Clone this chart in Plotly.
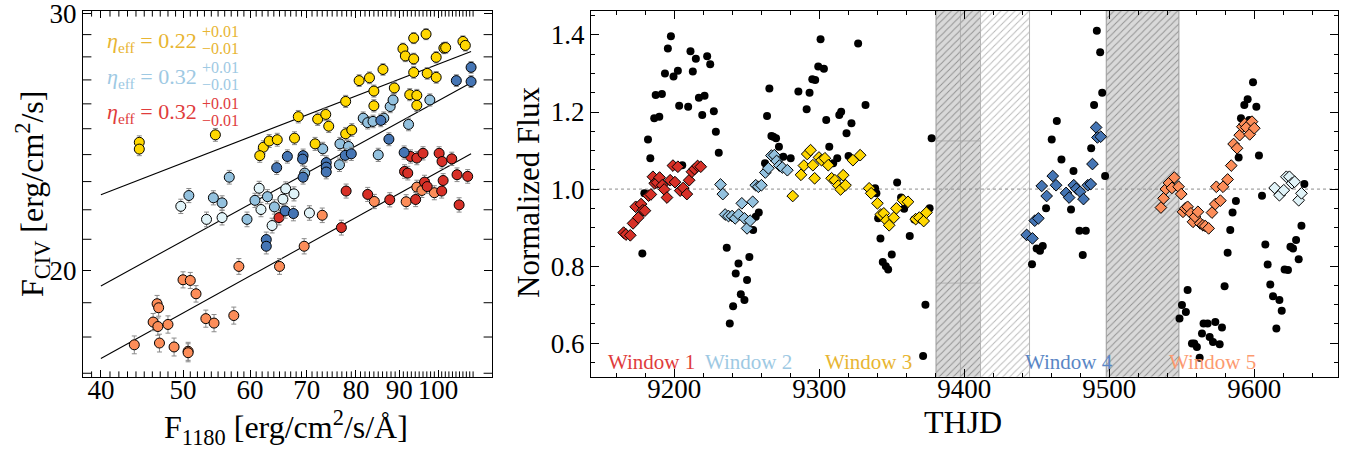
import plotly.graph_objects as go
import math

# ---------------- Left panel data ----------------
gold_x = [44.4, 44.4, 54.6, 68.4, 62.2, 63.2, 64.6, 61.6, 67.7, 71.6, 72.1, 73.7, 74.3, 77.8, 77.8, 79.1, 80.7, 83.0, 84.0, 84.0,
          86.1, 88.8, 90.9, 91.5, 93.6, 93.6, 93.6, 92.6, 94.4, 94.4, 96.8, 97.1, 99.5, 99.5, 101.6, 102.1, 107.0, 107.7]
gold_y = [24.47, 24.21, 24.76, 25.48, 24.28, 24.52, 24.57, 23.96, 24.63, 24.41, 25.38, 25.57, 25.10, 26.10, 24.80, 24.95, 26.97, 27.09, 26.53, 25.92,
          27.45, 26.66, 28.36, 28.04, 28.84, 27.91, 27.32, 26.38, 26.35, 25.94, 29.02, 27.28, 27.98, 27.11, 28.39, 28.41, 28.69, 28.51]

darkblue_x = [66.4, 64.5, 69.3, 69.2, 69.3, 66.0, 67.5, 62.7, 62.7, 73.8, 73.8, 73.8, 77.7, 79.0, 85.6, 87.5, 91.2, 105.1, 109.4, 109.4]
darkblue_y = [23.93, 23.51, 23.96, 23.83, 23.16, 21.96, 21.87, 20.99, 20.77, 23.70, 23.53, 23.35, 23.97, 24.03, 25.33, 24.59, 24.08, 26.97, 27.54, 26.93]

lightblue_x = [50.8, 54.3, 55.6, 56.7, 59.5, 60.8, 62.9, 64.1, 69.6, 73.1, 76.6, 76.5, 78.4, 81.6, 82.6, 83.8, 86.3, 87.8, 88.5, 92.3, 97.8, 85.0]
lightblue_y = [22.50, 22.42, 22.24, 23.16, 21.67, 22.33, 22.46, 22.10, 23.31, 24.22, 24.41, 23.62, 24.31, 25.42, 25.24, 25.29, 25.42, 25.89, 26.16, 25.17, 26.16, 23.99]

verylight_x = [49.7, 53.3, 55.6, 61.5, 61.8, 63.7, 66.1, 65.6, 67.6, 70.5]
verylight_y = [22.12, 21.67, 21.73, 22.76, 22.01, 21.46, 22.74, 22.37, 22.56, 21.89]

red_x = [64.9, 76.9, 77.9, 82.6, 87.7, 91.3, 92.1, 92.8, 94.4, 96.0, 100.3, 101.1, 103.8, 96.4, 97.1, 101.4, 101.0, 94.1, 105.3, 108.4, 105.9]
red_y = [21.73, 21.39, 22.66, 22.54, 22.35, 23.37, 23.31, 23.93, 23.87, 24.05, 24.05, 23.74, 23.84, 22.98, 22.82, 23.04, 22.66, 22.36, 23.25, 23.19, 22.17]

orange_x = [43.8, 46.9, 48.8, 50.7, 50.7, 46.1, 46.7, 48.0, 46.6, 46.8, 50.0, 51.0, 51.8, 53.2, 54.4, 57.4, 58.2, 65.0, 69.5, 73.0, 84.1, 91.7, 94.4, 95.7, 99.0]
orange_y = [17.78, 17.83, 17.72, 17.60, 17.56, 18.43, 18.30, 18.36, 18.97, 18.85, 19.70, 19.68, 19.27, 18.53, 18.40, 18.62, 20.12, 20.12, 20.77, 21.81, 22.29, 22.28, 22.80, 22.68, 22.60]

civ_err = 0.25

fit_x = [40, 109.4]
fit_top_y = [22.53, 28.24]
fit_mid_y = [19.51, 26.88]
fit_bot_y = [17.40, 24.03]

eta_labels = ["0.22", "0.32", "0.32"]

x1_major = [40, 50, 60, 70, 80, 90, 100]
x1_minor = [v for v in range(39, 111) if v not in x1_major]
y1_major = [20, 30]
y1_minor = [17, 18, 19, 21, 22, 23, 24, 25, 26, 27, 28, 29]

# ---------------- Right panel data ----------------
black_t = [9178.0, 9179.4, 9181.9, 9183.5, 9186.2, 9187.2, 9189.7, 9191.5, 9193.6, 9195.6, 9197.7, 9199.5, 9202.5, 9203.4, 9205.5,
           9209.6, 9211.2, 9212.8, 9214.9, 9217.0, 9219.3, 9220.9, 9222.7, 9224.8, 9227.3, 9228.7, 9230.7, 9236.2, 9238.3, 9240.6,
           9242.4, 9244.3, 9245.9, 9248.4, 9250.2, 9251.8, 9254.4, 9256.2, 9258.3, 9262.6, 9264.0, 9265.6, 9267.0, 9268.3, 9270.2,
           9272.2, 9275.2, 9280.3, 9285.6, 9291.3, 9293.3, 9295.2, 9297.2, 9299.3, 9300.9, 9303.2, 9304.8, 9306.9, 9309.6, 9312.4,
           9313.8, 9315.1, 9318.8, 9320.2, 9322.2, 9326.8, 9331.9, 9338.5, 9339.4, 9340.6, 9342.2, 9343.8, 9345.9, 9347.5, 9350.0,
           9353.7, 9356.4, 9358.5, 9362.4, 9365.6, 9369.7, 9371.6, 9373.2, 9376.1, 9377.5,
           9446.7, 9449.9, 9452.2, 9454.1, 9456.4, 9460.3, 9463.8, 9467.0, 9473.6, 9475.3, 9479.4, 9481.7, 9483.8, 9487.5, 9489.5,
           9491.4, 9493.7, 9495.1, 9497.1,
           9548.4, 9550.1, 9552.8, 9554.0, 9557.0, 9558.6, 9560.4, 9562.3, 9563.9, 9565.0, 9567.8, 9569.2, 9571.5, 9573.1, 9576.1,
           9577.7, 9579.5, 9581.6, 9583.4, 9585.0, 9587.3, 9589.2, 9590.8, 9593.1, 9595.4, 9596.5, 9599.1, 9601.4, 9603.2, 9605.3,
           9607.6, 9609.2, 9611.0, 9612.9, 9615.2, 9617.3, 9618.9, 9620.9, 9623.2, 9624.9, 9626.7, 9628.8, 9630.6, 9632.5, 9634.5]
black_f = [0.833, 0.989, 1.129, 1.080, 1.184, 1.244, 1.188, 1.247, 1.300, 1.365, 1.397, 1.292, 1.307, 1.216, 1.062,
           1.214, 1.358, 1.305, 1.338, 1.237, 1.192, 1.242, 1.345, 1.324, 1.202, 1.149, 1.094, 0.848, 0.651, 0.696,
           0.781, 0.807, 0.727, 0.712, 0.764, 0.824, 0.894, 0.928, 0.939, 1.067, 1.190, 1.261, 1.138, 1.136, 1.132,
           1.110, 1.084, 1.080, 1.253, 1.207, 1.250, 1.285, 1.283, 1.318, 1.389, 1.312, 1.179, 1.110, 1.067, 1.080,
           1.192, 1.201, 1.145, 1.086, 1.171, 1.378, 1.218, 1.002, 0.989, 0.924, 0.872, 0.811, 0.800, 0.791, 0.830,
           1.017, 0.978, 0.949, 0.878, 0.921, 0.928, 0.567, 0.700, 0.950, 1.132,
           0.805, 0.846, 0.840, 0.852, 0.950, 1.129, 1.177, 1.077, 0.947, 1.047, 0.892, 0.829, 0.892, 1.106, 1.218,
           1.411, 1.355, 1.250, 1.034,
           0.664, 0.699, 0.681, 0.738, 0.599, 0.599, 0.590, 0.562, 0.625, 0.651, 0.651, 0.616, 0.603, 0.655, 0.597,
           0.641, 0.748, 0.835, 0.894, 0.939, 0.969, 1.082, 1.184, 1.218, 1.233, 1.179, 1.277, 1.214, 1.087, 0.983,
           0.856, 0.804, 0.752, 0.722, 0.638, 0.712, 0.684, 0.791, 0.790, 0.850, 0.846, 0.868, 0.818, 0.905, 1.013]

w1_t = [9165.1, 9166.7, 9169.7, 9171.6, 9173.4, 9175.2, 9177.1, 9178.4, 9179.8, 9182.3, 9183.9, 9185.3, 9186.5, 9188.1, 9189.9,
        9191.7, 9193.1, 9195.0, 9197.2, 9199.1, 9200.5, 9202.5, 9204.1, 9206.2, 9208.7, 9210.3, 9212.2, 9214.0, 9216.1, 9218.3]
w1_f = [0.887, 0.882, 0.880, 0.911, 0.954, 0.926, 0.961, 0.945, 0.944, 0.983, 0.986, 1.032, 1.015, 1.017, 1.030,
        1.010, 0.999, 0.978, 1.023, 1.061, 1.018, 1.058, 0.996, 1.003, 0.987, 1.023, 1.045, 1.052, 1.060, 1.058]

w2_t = [9231.9, 9233.5, 9235.1, 9237.4, 9239.9, 9242.0, 9244.5, 9246.6, 9248.4, 9250.2, 9252.3, 9254.1, 9256.2, 9258.0, 9260.1,
        9262.8, 9264.9, 9267.0, 9269.0, 9270.6, 9272.5, 9274.5, 9278.0]
w2_f = [1.012, 0.987, 0.934, 0.930, 0.930, 0.924, 0.934, 0.963, 0.924, 0.898, 0.918, 0.967, 1.010, 1.006, 1.010,
        1.043, 1.054, 1.087, 1.088, 1.073, 1.061, 1.056, 1.049]

w3_t = [9281.7, 9287.4, 9289.4, 9291.7, 9294.0, 9295.6, 9296.8, 9299.8, 9301.6, 9303.9, 9306.2, 9308.5, 9310.8, 9313.1, 9314.7,
        9316.5, 9318.1, 9323.2, 9328.2, 9334.4, 9335.8, 9340.1, 9342.4, 9344.5, 9346.3, 9348.2, 9351.4, 9353.2, 9357.8, 9361.2,
        9366.5, 9369.0, 9372.0, 9373.9]
w3_f = [0.982, 1.037, 1.061, 1.091, 1.101, 1.062, 1.028, 1.082, 1.075, 1.080, 1.062, 1.028, 1.023, 1.009, 0.999,
        1.036, 1.010, 1.075, 1.088, 1.002, 0.989, 0.963, 0.934, 0.937, 0.919, 0.906, 0.926, 0.950, 0.971, 0.967,
        0.922, 0.926, 0.917, 0.939]

w4_t = [9443.0, 9447.0, 9448.6, 9451.1, 9453.4, 9456.8, 9461.0, 9463.3, 9470.2, 9472.3, 9475.5, 9477.3, 9479.9, 9482.2, 9485.2,
        9487.2, 9488.4, 9490.9, 9491.8, 9494.1]
w4_f = [0.881, 0.872, 0.918, 0.924, 1.008, 0.982, 1.034, 1.010, 0.990, 0.978, 1.010, 1.001, 0.993, 0.974, 1.010,
        1.013, 1.065, 1.160, 1.134, 1.136]

w5_t = [9535.6, 9537.4, 9539.0, 9541.1, 9543.2, 9544.8, 9547.8, 9549.6, 9550.8, 9552.4, 9554.0, 9556.3, 9557.7, 9559.1, 9561.1,
        9562.7, 9564.6, 9566.2, 9568.5, 9570.8, 9573.1, 9573.8, 9576.6, 9578.4, 9581.6, 9584.1, 9585.7, 9588.1, 9589.9, 9591.7,
        9593.3, 9594.5, 9596.8, 9598.4, 9600.0]
w5_f = [0.952, 0.976, 1.000, 1.016, 1.003, 1.030, 1.006, 0.987, 0.941, 0.950, 0.954, 0.937, 0.915, 0.928, 0.941,
        0.911, 0.906, 0.904, 0.898, 0.939, 0.961, 1.006, 0.970, 1.006, 1.025, 1.061, 1.117, 1.106, 1.140, 1.162,
        1.169, 1.160, 1.142, 1.175, 1.158]

w6_t = [9614.0, 9617.3, 9620.3, 9622.1, 9624.2, 9626.0, 9627.8, 9630.6, 9632.5]
w6_f = [1.003, 0.984, 0.997, 1.032, 1.032, 1.015, 1.019, 0.971, 0.989]

gap_start = [9380.5, 9411.2, 9497.9]
gap_end = [9411.2, 9445.0, 9548.0]
gap_dark = [True, False, True]

window_names = ["Window 1", "Window 2", "Window 3", "Window 4", "Window 5"]
window_label_t = [9184.0, 9251.0, 9334.0, 9472.5, 9571.0]

# ---------------- Styles ----------------
FONT = "Liberation Serif"
C_GOLD = "#ffd700"
C_LBLUE = "#93c1de"
C_DBLUE = "#4575b4"
C_VLIGHT = "#e0f3f8"
C_RED = "#d73027"
C_ORANGE = "#fc8d59"
T_GOLD = "#e8b532"
T_LBLUE = "#9ec9e3"
T_RED = "#e03c3c"
T_DBLUE = "#5a86c5"
T_ORANGE = "#fc9a70"

XR1 = [math.log10(38.1), math.log10(115.8)]
YR1 = [math.log10(16.9), math.log10(30.1)]
XR2 = [9142.6, 9657.7]
YR2 = [0.513, 1.463]

fig = go.Figure()

# minor ticks of the log axes (left panel), drawn as clipped tick marks on the frame
x_lo, x_hi = 10 ** XR1[0], 10 ** XR1[1]
y_lo, y_hi = 10 ** YR1[0], 10 ** YR1[1]
for yedge in (y_lo, y_hi):
    fig.add_trace(go.Scatter(x=x1_minor, y=[yedge] * len(x1_minor), mode="markers", xaxis="x", yaxis="y",
                             hoverinfo="skip",
                             marker=dict(symbol="line-ns", size=8, line=dict(color="black", width=1), color="black")))
for xedge in (x_lo, x_hi):
    fig.add_trace(go.Scatter(x=[xedge] * len(y1_minor), y=y1_minor, mode="markers", xaxis="x", yaxis="y",
                             hoverinfo="skip",
                             marker=dict(symbol="line-ew", size=12, line=dict(color="black", width=1), color="black")))

# fit lines
for fy in (fit_top_y, fit_mid_y, fit_bot_y):
    fig.add_trace(go.Scatter(x=fit_x, y=fy, mode="lines", line=dict(color="black", width=1.1),
                             xaxis="x", yaxis="y", hoverinfo="skip"))

def scat(xs, ys, color):
    fig.add_trace(go.Scatter(
        x=xs, y=ys, mode="markers", xaxis="x", yaxis="y",
        marker=dict(symbol="circle", size=10, color=color, line=dict(color="black", width=1)),
        error_y=dict(type="constant", value=civ_err, color="#8a8a8a", thickness=1, width=2.5),
    ))

scat(orange_x, orange_y, C_ORANGE)
scat(verylight_x, verylight_y, C_VLIGHT)
scat(lightblue_x, lightblue_y, C_LBLUE)
scat(red_x, red_y, C_RED)
scat(darkblue_x, darkblue_y, C_DBLUE)
scat(gold_x, gold_y, C_GOLD)

# shaded gaps (right panel)
for s, e, dark in zip(gap_start, gap_end, gap_dark):
    fig.add_trace(go.Scatter(
        x=[s, e, e, s, s], y=[0.3, 0.3, 1.7, 1.7, 0.3], mode="lines", fill="toself",
        xaxis="x2", yaxis="y2", hoverinfo="skip",
        line=dict(color="#9a9a9a" if dark else "#b5b5b5", width=1),
        fillcolor="#d9d9d9" if dark else "white",
        fillpattern=dict(shape="/", size=5, solidity=0.18,
                         fgcolor="#8f8f8f" if dark else "#b8b8b8",
                         bgcolor="#d9d9d9" if dark else "white", fillmode="replace"),
    ))

# faint lines inside the first dark gap
fig.add_trace(go.Scatter(x=[(gap_start[0] + gap_end[0]) / 2 + 1.5] * 2, y=[0.3, 1.7], mode="lines",
                         line=dict(color="#a5a5a5", width=0.8), xaxis="x2", yaxis="y2", hoverinfo="skip"))
for yy in (1.125, 0.756):
    fig.add_trace(go.Scatter(x=[gap_start[0], gap_end[0]], y=[yy, yy], mode="lines",
                             line=dict(color="#a5a5a5", width=0.8), xaxis="x2", yaxis="y2", hoverinfo="skip"))

# reference line at 1
fig.add_trace(go.Scatter(x=XR2, y=[1.0, 1.0], mode="lines", line=dict(color="#8c8c8c", width=1, dash="dot"),
                         xaxis="x2", yaxis="y2", hoverinfo="skip"))

fig.add_trace(go.Scatter(x=black_t, y=black_f, mode="markers", xaxis="x2", yaxis="y2",
                         marker=dict(symbol="circle", size=8, color="black", line=dict(width=0))))

def diam(ts, fs, color):
    fig.add_trace(go.Scatter(x=ts, y=fs, mode="markers", xaxis="x2", yaxis="y2",
                             marker=dict(symbol="diamond", size=9, color=color, line=dict(color="black", width=1))))

diam(w1_t, w1_f, C_RED)
diam(w2_t, w2_f, C_LBLUE)
diam(w3_t, w3_f, C_GOLD)
diam(w4_t, w4_f, C_DBLUE)
diam(w5_t, w5_f, C_ORANGE)
diam(w6_t, w6_f, C_VLIGHT)

annotations = []
# eta labels
eta_colors = [T_GOLD, T_LBLUE, T_RED]
main_y = [41.7, 77.7, 113.3]
sup_y = [31.5, 67.5, 103.5]
sub_y = [48.5, 84.5, 120.5]
for lab, col, my, spy, sby in zip(eta_labels, eta_colors, main_y, sup_y, sub_y):
    annotations.append(dict(xref="paper", yref="paper", x=199 / 1347, y=1 - my / 449, xanchor="right", yanchor="middle",
                            text="<i>η</i><sub>eff</sub> = " + lab, showarrow=False,
                            font=dict(family=FONT, size=22, color=col)))
    annotations.append(dict(xref="paper", yref="paper", x=200 / 1347, y=1 - spy / 449, xanchor="left", yanchor="middle",
                            text="+0.01", showarrow=False, font=dict(family=FONT, size=16, color=col)))
    annotations.append(dict(xref="paper", yref="paper", x=200 / 1347, y=1 - sby / 449, xanchor="left", yanchor="middle",
                            text="\u22120.01", showarrow=False, font=dict(family=FONT, size=16, color=col)))

win_colors = [T_RED, T_LBLUE, T_GOLD, T_DBLUE, T_ORANGE]
for name, t, col in zip(window_names, window_label_t, win_colors):
    annotations.append(dict(xref="x2", yref="y2", x=t, y=0.551, text=name, showarrow=False,
                            xanchor="center", yanchor="middle", font=dict(family=FONT, size=21, color=col)))

# axis titles
annotations += [
    dict(xref="paper", yref="paper", x=32 / 1347, y=1 - 194 / 449, text="F<sub>CIV</sub> [erg/cm<sup>2</sup>/s]",
         textangle=-90, showarrow=False, xanchor="center", yanchor="middle", font=dict(family=FONT, size=32, color="black")),
    dict(xref="paper", yref="paper", x=286 / 1347, y=1 - 427 / 449, text="F<sub>1180</sub> [erg/cm<sup>2</sup>/s/Å]",
         showarrow=False, xanchor="center", yanchor="middle", font=dict(family=FONT, size=32, color="black")),
    dict(xref="paper", yref="paper", x=528 / 1347, y=1 - 193 / 449, text="Normalized Flux",
         textangle=-90, showarrow=False, xanchor="center", yanchor="middle", font=dict(family=FONT, size=31, color="black")),
    dict(xref="paper", yref="paper", x=963 / 1347, y=1 - 422 / 449, text="THJD",
         showarrow=False, xanchor="center", yanchor="middle", font=dict(family=FONT, size=32, color="black")),
]

axis_common = dict(showline=True, linecolor="black", linewidth=1.3, mirror="ticks", ticks="inside",
                   tickcolor="black", tickwidth=1, showgrid=False, zeroline=False, automargin=False,
                   tickfont=dict(family=FONT, size=27, color="black"))

fig.update_layout(
    width=1347, height=449, margin=dict(l=0, r=0, t=0, b=0, pad=0, autoexpand=False),
    paper_bgcolor="white", plot_bgcolor="white", showlegend=False,
    font=dict(family=FONT, color="black"),
    xaxis=dict(domain=[83 / 1347, 492 / 1347], anchor="y", type="log", range=XR1,
               tickmode="array", tickvals=x1_major, ticktext=[str(v) for v in x1_major], ticklen=7,
               ticklabelstandoff=-12, **axis_common),
    yaxis=dict(domain=[1 - 377 / 449, 1 - 11 / 449], anchor="x", type="log", range=YR1,
               tickmode="array", tickvals=y1_major, ticktext=[str(v) for v in y1_major], ticklen=8,
               ticklabeloverflow="allow", **axis_common),
    xaxis2=dict(domain=[591 / 1347, 1338 / 1347], anchor="y2", range=XR2,
                tickmode="linear", tick0=9200, dtick=100, ticklen=8, ticklabelstandoff=-12,
                minor=dict(tick0=9200, dtick=20, ticks="inside", ticklen=4, tickcolor="black"),
                **axis_common),
    yaxis2=dict(domain=[1 - 376.7 / 449, 1 - 10.7 / 449], anchor="x2", range=YR2,
                tickmode="linear", tick0=0.6, dtick=0.2, tickformat=".1f", ticklen=8,
                minor=dict(tick0=0.6, dtick=0.05, ticks="inside", ticklen=4, tickcolor="black"),
                **axis_common),
    annotations=annotations,
)

fig.write_html("out.html")
